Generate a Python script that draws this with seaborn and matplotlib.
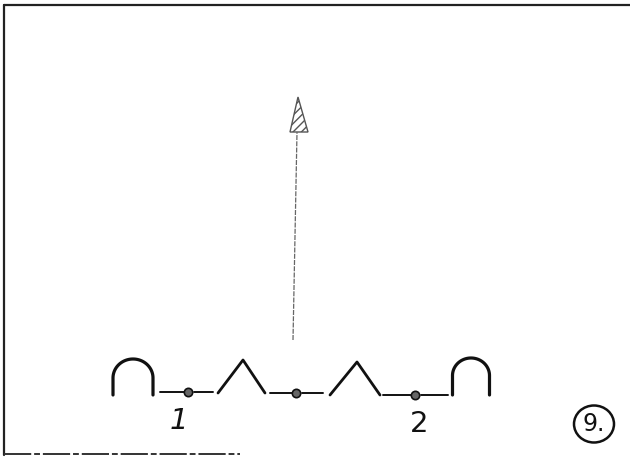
import numpy as np
import pandas as pd
import matplotlib
matplotlib.use("Agg")
import matplotlib.pyplot as plt
from matplotlib.patches import Ellipse, Polygon
import seaborn as sns

# ---- sketch data (pixel space of the 630x457 drawing) ----
arch_centers = [133, 471]          # x centre of the two end arches
arch_halfwidths = [20, 18.5]
arch_tops = [359, 358]
arch_base = 395

peak_x = [[218, 243, 265], [330, 357, 380]]
peak_y = [[393, 360, 393], [395, 362, 395]]

node_x = [188, 296, 415]
node_y = [392, 393, 395]
link_left = [160, 270, 383]        # start of wire left of each node
link_right = [213, 323, 448]       # end of wire right of each node

label_text = ["1", "2"]
label_x = [179, 419]
label_y = [421, 424]

arrow_x = [293, 297]
arrow_y = [340, 132]
arrow_tip = (298, 97)

sns.set_style("white")
fig = plt.figure(figsize=(6.30, 4.57), dpi=100)
ax = fig.add_axes([0, 0, 1, 1])
ax.set_xlim(0, 630)
ax.set_ylim(457, 0)
ax.axis("off")

ink = "#111111"
lw = 2.0

# frame
ax.plot([4, 630], [5, 5], color="#222222", lw=1.6)
ax.plot([4, 4], [5, 455], color="#222222", lw=1.6)
ax.plot([4, 240], [454, 454], color="#333333", lw=1.4, ls=(0, (14, 1.5, 3, 1.5)))

# arches
for cx, hw, top in zip(arch_centers, arch_halfwidths, arch_tops):
    h = hw * 0.95
    t = np.linspace(np.pi, 0, 60)
    xs = np.concatenate([[cx - hw], cx + hw * np.cos(t), [cx + hw]])
    ys = np.concatenate([[arch_base], (top + h) - h * np.sin(t), [arch_base]])
    df = pd.DataFrame({"x": xs, "y": ys, "o": np.arange(len(xs))})
    sns.lineplot(data=df, x="x", y="y", sort=False, estimator=None,
                 color=ink, lw=lw + 0.3, ax=ax)

# peaks
for px, py in zip(peak_x, peak_y):
    sns.lineplot(x=px, y=py, sort=False, estimator=None, color=ink, lw=lw, ax=ax)

# wires and nodes
for nx, ny, l, r in zip(node_x, node_y, link_left, link_right):
    ax.plot([l, nx - 4], [ny, ny], color=ink, lw=1.4)
    ax.plot([nx + 6, r], [ny, ny], color=ink, lw=1.4)
sns.scatterplot(x=node_x, y=node_y, s=36, color="#666666", edgecolor=ink,
                linewidth=1.2, ax=ax, zorder=5)

# labels
for t, x, y in zip(label_text, label_x, label_y):
    ax.text(x, y, t, ha="center", va="center", fontsize=21,
            family="DejaVu Sans", style="italic" if t == "1" else "normal",
            color=ink, fontweight="normal")

# arrow
ax.plot(arrow_x, arrow_y, color="#666666", lw=0.9, ls=(0, (4, 1)))
head = Polygon([arrow_tip, (290, 132), (308, 132)], closed=True,
               facecolor="white", edgecolor="#555555", lw=1.0, hatch="////")
ax.add_patch(head)

# circled page number
ax.add_patch(Ellipse((594, 424), 40, 37, fill=False, edgecolor=ink, lw=1.8))
ax.text(594, 424, "9.", ha="center", va="center", fontsize=17,
        family="DejaVu Sans", color=ink)

fig.savefig("out.png", dpi=100)
